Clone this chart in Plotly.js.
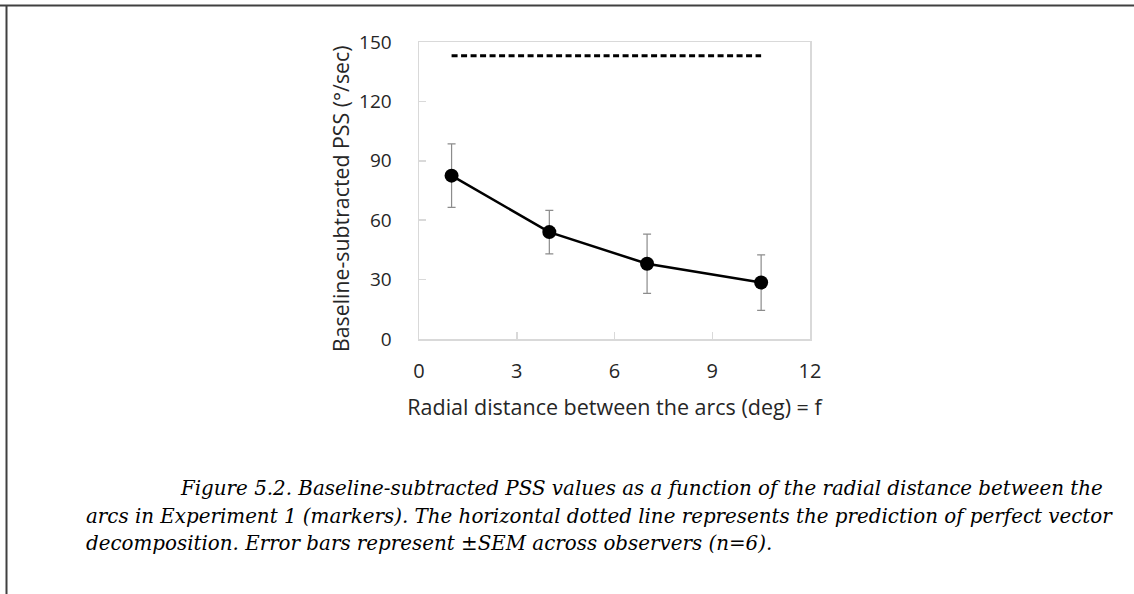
<!DOCTYPE html>
<html>
<head>
<meta charset="utf-8">
<script src="https://cdn.plot.ly/plotly-3.0.1.min.js"></script>
<style>
  html, body { margin: 0; padding: 0; background: #fff; }
  #chart { width: 1134px; height: 594px; }
</style>
</head>
<body>
<div id="chart"></div>
<script>
// Data
const distances = [1, 4, 7, 10.5];
const pssValues = [82.5, 54, 38, 28.5];
const semValues = [16, 11, 15, 14];
const predictionX = [1, 10.5];
const predictionY = [143, 143];

const xTicks = [0, 3, 6, 9, 12];
const yTicks = [0, 30, 60, 90, 120, 150];

const xTitle = 'Radial distance between the arcs (deg) = f';
const yTitle = 'Baseline-subtracted PSS (°/sec)';
const captionLines = [
  'Figure 5.2. Baseline-subtracted PSS values as a function of the radial distance between the',
  'arcs in Experiment 1 (markers). The horizontal dotted line represents the prediction of perfect vector',
  'decomposition. Error bars represent ±SEM across observers (n=6).'
];

const sans = 'Open Sans, Liberation Sans, sans-serif';
const captionFont = { family: 'DejaVu Serif, Liberation Serif, serif', size: 19.85, color: '#000' };

// pixel -> paper helpers (plot area: x 419..810, y 42..339)
const px = v => (v - 419) / 391;
const py = v => (339 - v) / 297;

const traces = [
  {
    x: predictionX, y: predictionY, type: 'scatter', mode: 'lines',
    line: { color: '#000', width: 3, dash: '6px,3.5px' },
    hoverinfo: 'skip'
  },
  {
    x: distances, y: pssValues, type: 'scatter', mode: 'lines+markers',
    line: { color: '#000', width: 2.5 },
    marker: { color: '#000', size: 14 },
    error_y: { type: 'data', array: semValues, visible: true, color: '#8c8c8c', thickness: 1.2, width: 4 }
  }
];

const layout = {
  width: 1134, height: 594,
  paper_bgcolor: '#fff', plot_bgcolor: '#fff',
  showlegend: false,
  margin: { l: 419, r: 324, t: 42, b: 255 },
  xaxis: {
    range: [0, 12], tickvals: xTicks, ticktext: xTicks.map(String),
    showgrid: false, zeroline: false,
    showline: true, mirror: true, linecolor: '#d9d9d9', linewidth: 1.5,
    ticks: 'inside', ticklen: 7, tickcolor: '#d9d9d9', tickwidth: 1.5,
    ticklabelstandoff: 13,
    tickfont: { family: sans, size: 20, color: '#262626' },
    title: { text: xTitle, font: { family: sans, size: 21.5, color: '#262626' }, standoff: 17 }
  },
  yaxis: {
    range: [0, 150], tickvals: yTicks, ticktext: yTicks.map(String),
    showgrid: false, zeroline: false,
    showline: true, mirror: true, linecolor: '#d9d9d9', linewidth: 1.5,
    ticks: 'inside', ticklen: 7, tickcolor: '#d9d9d9', tickwidth: 1.5,
    ticklabelstandoff: 22,
    tickfont: { family: sans, size: 19, color: '#262626' }
  },
  shapes: [
    { type: 'line', xref: 'paper', yref: 'paper', x0: px(0), x1: px(1134), y0: py(5.5), y1: py(5.5),
      line: { color: '#404040', width: 2 } },
    { type: 'line', xref: 'paper', yref: 'paper', x0: px(6.5), x1: px(6.5), y0: py(5.5), y1: py(594),
      line: { color: '#404040', width: 2 } }
  ],
  annotations: [
    { xref: 'paper', yref: 'paper', xanchor: 'center', yanchor: 'middle', showarrow: false,
      x: px(341), y: py(199), textangle: -90, text: yTitle,
      font: { family: sans, size: 21.3, color: '#262626' } },
    { xref: 'paper', yref: 'paper', xanchor: 'left', yanchor: 'middle', showarrow: false,
      x: px(178), y: py(488), text: '<i>' + captionLines[0] + '</i>', font: captionFont },
    { xref: 'paper', yref: 'paper', xanchor: 'left', yanchor: 'middle', showarrow: false,
      x: px(84), y: py(516), text: '<i>' + captionLines[1] + '</i>', font: captionFont },
    { xref: 'paper', yref: 'paper', xanchor: 'left', yanchor: 'middle', showarrow: false,
      x: px(84), y: py(543), text: '<i>' + captionLines[2] + '</i>', font: captionFont }
  ]
};

Plotly.newPlot('chart', traces, layout, { displayModeBar: false, staticPlot: true });
</script>
</body>
</html>
